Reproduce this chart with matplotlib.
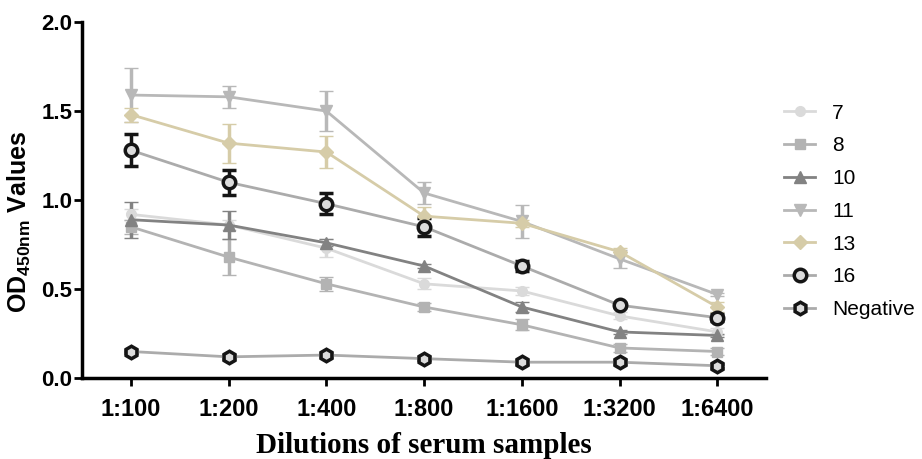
import matplotlib.pyplot as plt
from matplotlib.lines import Line2D
import numpy as np

dilutions = ["1:100", "1:200", "1:400", "1:800", "1:1600", "1:3200", "1:6400"]

s7 = [0.92, 0.86, 0.73, 0.53, 0.49, 0.35, 0.26]
s7_err = [0.03, 0.03, 0.05, 0.03, 0.02, 0.02, 0.02]
s8 = [0.85, 0.68, 0.53, 0.40, 0.30, 0.17, 0.15]
s8_err = [0.04, 0.10, 0.04, 0.02, 0.03, 0.02, 0.02]
s10 = [0.89, 0.86, 0.76, 0.63, 0.40, 0.26, 0.24]
s10_err = [0.10, 0.08, 0.02, 0.01, 0.03, 0.01, 0.01]
s11 = [1.59, 1.58, 1.50, 1.04, 0.88, 0.67, 0.47]
s11_err = [0.15, 0.06, 0.11, 0.06, 0.09, 0.05, 0.01]
s13 = [1.48, 1.32, 1.27, 0.91, 0.87, 0.71, 0.40]
s13_err = [0.04, 0.11, 0.09, 0.05, 0.02, 0.02, 0.03]
s16 = [1.28, 1.10, 0.98, 0.85, 0.63, 0.41, 0.34]
s16_err = [0.09, 0.07, 0.06, 0.05, 0.03, 0.01, 0.02]
neg = [0.15, 0.12, 0.13, 0.11, 0.09, 0.09, 0.07]
neg_err = [0.01, 0.01, 0.01, 0.01, 0.01, 0.01, 0.01]

plt.rcParams['font.family'] = ['Liberation Sans', 'DejaVu Sans']
plt.rcParams['mathtext.fontset'] = 'custom'
plt.rcParams['mathtext.rm'] = 'Liberation Sans:bold'
plt.rcParams['mathtext.bf'] = 'Liberation Sans:bold'

fig = plt.figure(figsize=(9.22, 4.59), dpi=100)
ax = fig.add_axes([0.089, 0.176, 0.742, 0.776])

x = np.arange(len(dilutions))

series = [
    ("7", s7, s7_err, "#dadada", "o", "#dadada", "#dadada", 7),
    ("8", s8, s8_err, "#b3b3b3", "s", "#b3b3b3", "#b3b3b3", 7),
    ("10", s10, s10_err, "#828282", "^", "#828282", "#828282", 8),
    ("11", s11, s11_err, "#b8b8b8", "v", "#b8b8b8", "#b8b8b8", 8),
    ("13", s13, s13_err, "#d6cca8", "D", "#d6cca8", "#d6cca8", 7),
    ("16", s16, s16_err, "#ababab", "o", "#dcdcdc", "#151515", 9),
    ("Negative", neg, neg_err, "#ababab", "h", "#dcdcdc", "#151515", 9),
]

handles = []
for label, vals, err, lc, mk, mfc, mec, ms in series:
    dark = mec == "#151515"
    ecol = mec if dark else lc
    mew = 2.5 if dark else 1
    ax.errorbar(x, vals, yerr=err, color=lc, marker=mk, markersize=ms,
                markerfacecolor=mfc, markeredgecolor=mec, markeredgewidth=mew,
                linewidth=2, ecolor=ecol, elinewidth=2.5, capsize=5,
                capthick=2.5)
    handles.append(Line2D([], [], color=lc, marker=mk, markersize=ms,
                          markerfacecolor=mfc, markeredgecolor=mec,
                          markeredgewidth=mew, linewidth=2, label=label))

ax.set_xlim(-0.5, 6.5)
ax.set_ylim(0, 2.0)
ax.set_xticks(x)
ax.set_xticklabels(dilutions, fontsize=17, fontweight="bold")
ax.set_yticks([0, 0.5, 1.0, 1.5, 2.0])
ax.set_yticklabels(["0.0", "0.5", "1.0", "1.5", "2.0"], fontsize=16,
                   fontweight="bold")

for side in ["top", "right"]:
    ax.spines[side].set_visible(False)
for side in ["left", "bottom"]:
    ax.spines[side].set_linewidth(2.5)
ax.tick_params(width=2, length=6, direction="out")
ax.tick_params(axis="x", pad=8)
ax.tick_params(axis="y", pad=1)

ax.set_ylabel("OD$_{\\mathregular{450nm}}$ Values", fontsize=18,
              fontweight="bold")
ax.yaxis.set_label_coords(-0.071, 0.44)
ax.set_xlabel("Dilutions of serum samples", fontsize=21, fontweight="bold",
              family=["Liberation Serif", "DejaVu Serif"], labelpad=8)

ax.legend(handles=handles, loc="upper left", bbox_to_anchor=(0.83, 0.815),
          bbox_transform=fig.transFigure, frameon=False, fontsize=15,
          handlelength=1.5, labelspacing=0.66, handletextpad=0.8)

fig.savefig("out.png", dpi=100)
